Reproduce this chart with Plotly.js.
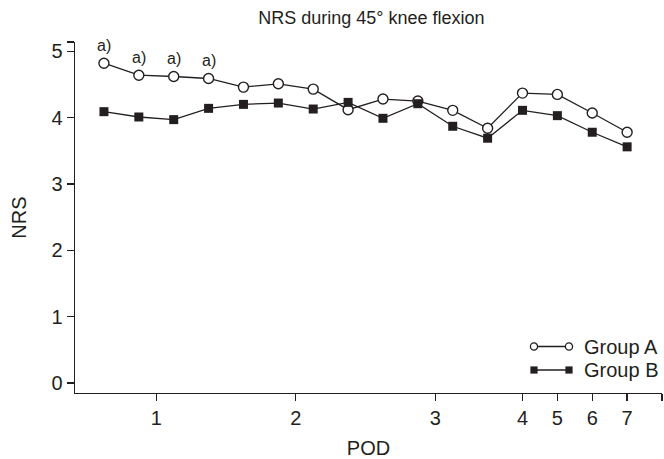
<!DOCTYPE html>
<html>
<head>
<meta charset="utf-8">
<script src="https://cdn.plot.ly/plotly-3.0.1.min.js"></script>
<style>html,body{margin:0;padding:0;background:#fff;}#chart{width:664px;height:459px;}</style>
</head>
<body>
<div id="chart"></div>
<script>
// Measurement index along POD (4 per day for days 1-3, then daily)
const measureIndex = [0,1,2,3,4,5,6,7,8,9,10,11,12,13,14,15];
const groupA = [4.82,4.64,4.62,4.59,4.46,4.51,4.43,4.12,4.28,4.25,4.11,3.84,4.37,4.35,4.07,3.78];
const groupB = [4.09,4.01,3.97,4.14,4.20,4.22,4.13,4.23,3.99,4.21,3.87,3.69,4.11,4.03,3.78,3.56];
const podTickVals = [1.5,5.5,9.5,12,13,14,15,16];
const podTickText = ['1','2','3','4','5','6','7',''];
const nrsTickVals = [0,1,2,3,4,5,5.14];
const nrsTickText = ['0','1','2','3','4','5',''];
const sigIndex = [0,1,2,3];
const sigLabel = 'a)';

const ink = '#231f20';
const font = {family: 'Liberation Sans, Arial, sans-serif', size: 20, color: ink};

const traces = [
  {x: measureIndex, y: groupA, name: 'Group A', mode: 'lines+markers', type: 'scatter',
   line: {color: ink, width: 1.3},
   marker: {symbol: 'circle', size: 10, color: '#fff', line: {color: ink, width: 1.4}}},
  {x: measureIndex, y: groupB, name: 'Group B', mode: 'lines+markers', type: 'scatter',
   line: {color: ink, width: 1.3},
   marker: {symbol: 'square', size: 9, color: ink, line: {color: ink, width: 0}}}
];

const annotations = sigIndex.map(i => ({
  x: measureIndex[i], y: groupA[i], xref: 'x', yref: 'y', text: sigLabel,
  showarrow: false, yshift: 18, font: {family: font.family, size: 16, color: ink}
}));

// plot area in pixels (for the custom legend, paper coords are relative to it)
const M = {l: 75, r: 2, t: 42, b: 66};
const W = 664, H = 459;
const plotW = W - M.l - M.r, plotH = H - M.t - M.b;
const px = v => (v - M.l) / plotW;
const py = v => (H - M.b - v) / plotH;

// custom legend (line with markers at both ends)
const legendItems = [
  {label: 'Group A', yPx: 346.5, symbol: 'circle'},
  {label: 'Group B', yPx: 370, symbol: 'square'}
];
const shapes = [];
legendItems.forEach(it => {
  shapes.push({type: 'line', xref: 'paper', yref: 'paper', x0: px(534), x1: px(569), y0: py(it.yPx), y1: py(it.yPx), line: {color: ink, width: 1.3}});
  [534, 569].forEach(cx => {
    const r = 3.6;
    if (it.symbol === 'circle') {
      shapes.push({type: 'circle', xref: 'paper', yref: 'paper', x0: px(cx - r), x1: px(cx + r), y0: py(it.yPx + r), y1: py(it.yPx - r), fillcolor: '#fff', line: {color: ink, width: 1.3}});
    } else {
      shapes.push({type: 'rect', xref: 'paper', yref: 'paper', x0: px(cx - r), x1: px(cx + r), y0: py(it.yPx + r), y1: py(it.yPx - r), fillcolor: ink, line: {color: ink, width: 0}});
    }
  });
  annotations.push({xref: 'paper', yref: 'paper', x: px(582), y: py(it.yPx), xanchor: 'left', yanchor: 'middle', text: it.label, showarrow: false, font: font});
});

const layout = {
  width: W, height: H,
  margin: M,
  paper_bgcolor: '#fff', plot_bgcolor: '#fff',
  font: font,
  showlegend: false,
  title: {text: 'NRS during 45° knee flexion', font: {family: font.family, size: 18, color: ink},
          xref: 'paper', x: 0.505, xanchor: 'center', yref: 'container', y: 0.962, yanchor: 'middle'},
  xaxis: {
    range: [-0.83, 16], tickvals: podTickVals, ticktext: podTickText,
    showgrid: false, zeroline: false, showline: true, linecolor: ink, linewidth: 1.3,
    ticks: 'outside', ticklen: 7, tickwidth: 1.3, tickcolor: ink,
    title: {text: 'POD', font: font, standoff: 20}, tickfont: font
  },
  yaxis: {
    range: [-0.15, 5.14], tickvals: nrsTickVals, ticktext: nrsTickText,
    showgrid: false, zeroline: false, showline: true, linecolor: ink, linewidth: 1.3,
    ticks: 'outside', ticklen: 7, tickwidth: 1.3, tickcolor: ink,
    title: {text: 'NRS', font: font, standoff: 19}, tickfont: font
  },
  annotations: annotations,
  shapes: shapes
};

Plotly.newPlot('chart', traces, layout, {displayModeBar: false, staticPlot: true});
</script>
</body>
</html>
